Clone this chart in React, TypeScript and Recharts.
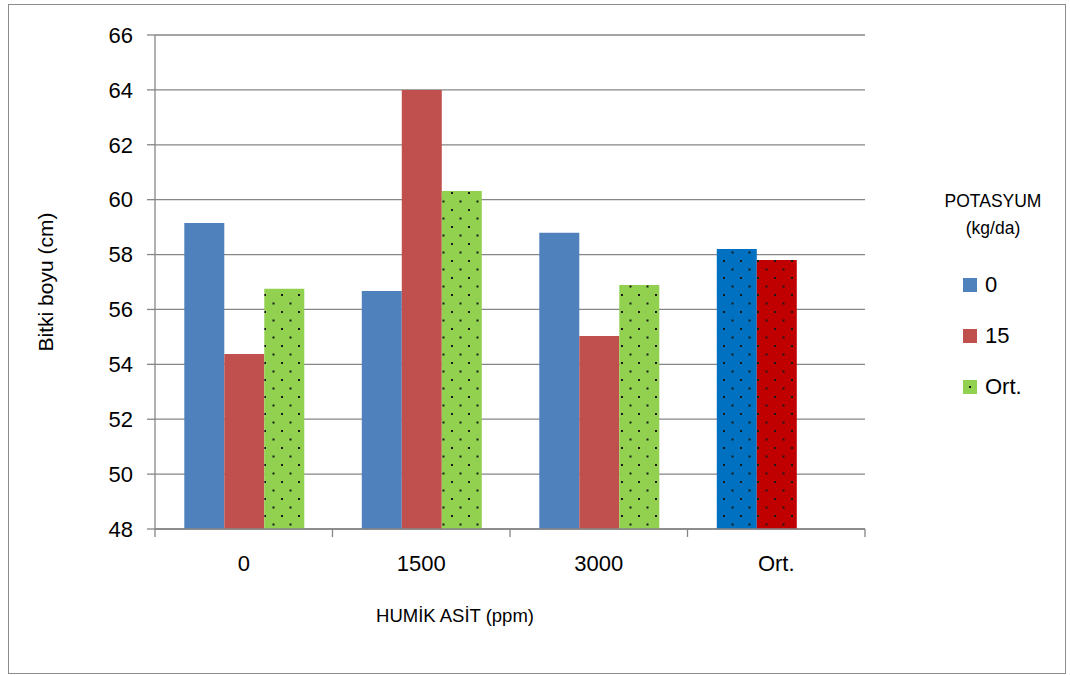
import { Bar, BarChart, CartesianGrid, Cell, XAxis, YAxis } from "recharts";

const categories = ["0", "1500", "3000", "Ort."];
const potasyum0 = [59.15, 56.67, 58.79, 58.2];
const potasyum15 = [54.38, 64.0, 55.03, 57.8];
const ortalama: (number | null)[] = [56.75, 60.32, 56.89, null];
const yTicks = [48, 50, 52, 54, 56, 58, 60, 62, 64, 66];
const legendTitle = ["POTASYUM", "(kg/da)"];
const legendLabels = ["0", "15", "Ort."];

const FONT = '"Liberation Sans", Arial, sans-serif';
const GRID = "#868686";
const BLUE = "#4F81BD";
const RED = "#C0504D";
const GREEN = "#92D050";

const CHART_W = 1056;
const CHART_H = 668;
const MARGIN = { top: 30, right: 200, left: 86, bottom: 44 };
const Y_AXIS_W = 60;
const BAND = (CHART_W - MARGIN.left - MARGIN.right - Y_AXIS_W) / categories.length;

const data = categories.map((c, i) => ({
  cat: c,
  k0: potasyum0[i],
  k15: potasyum15[i],
  ort: ortalama[i],
}));

function XTick(props: any) {
  const { x, y, payload, index } = props;
  const half = BAND / 2;
  return (
    <g>
      <line x1={x - half} x2={x - half} y1={y} y2={y + 8} stroke={GRID} strokeWidth={1.3} />
      {index === categories.length - 1 && (
        <line x1={x + half} x2={x + half} y1={y} y2={y + 8} stroke={GRID} strokeWidth={1.3} />
      )}
      <text x={x} y={y + 34} textAnchor="middle" dominantBaseline="central" fill="#000" fontSize={22} fontFamily={FONT}>
        {payload.value}
      </text>
    </g>
  );
}

function Patterns() {
  const dot = "#1a1a1a";
  const make = (id: string, bg: string) => (
    <pattern id={id} patternUnits="userSpaceOnUse" width="17" height="17">
      <rect width="17" height="17" fill={bg} />
      <rect x="0" y="0" width="2" height="2" fill={dot} />
      <rect x="8.5" y="8.5" width="2" height="2" fill={dot} />
    </pattern>
  );
  return (
    <svg width="0" height="0" style={{ position: "absolute" }}>
      <defs>
        {make("dotsGreen", GREEN)}
        {make("dotsBlue", "#0070C0")}
        {make("dotsRed", "#C00000")}
      </defs>
    </svg>
  );
}

function LegendBox() {
  const colors = [BLUE, RED, GREEN];
  return (
    <div style={{ fontFamily: FONT, color: "#000" }}>
      <div
        style={{
          position: "absolute",
          left: 901,
          top: 183,
          width: 166,
          textAlign: "center",
          fontSize: 17.5,
          lineHeight: "27px",
        }}
      >
        {legendTitle.map((t) => (
          <div key={t}>{t}</div>
        ))}
      </div>
      {legendLabels.map((l, i) => (
        <div
          key={l}
          style={{
            position: "absolute",
            left: 954,
            top: 268 + i * 51,
            height: 24,
            display: "flex",
            alignItems: "center",
            fontSize: 22,
          }}
        >
          <div style={{ width: 14, height: 14, background: colors[i], marginRight: 8, position: "relative" }}>
            {i === 2 && (
              <div style={{ position: "absolute", left: 6, top: 6, width: 2, height: 2, background: "#1a1a1a" }} />
            )}
          </div>
          <span>{l}</span>
        </div>
      ))}
    </div>
  );
}

export default function App() {
  return (
    <div
      style={{
        position: "absolute",
        left: 8,
        top: 4,
        width: 1058,
        height: 670,
        boxSizing: "border-box",
        border: "1px solid #8c8c8c",
        background: "#fff",
      }}
    >
      <Patterns />
      <div style={{ position: "relative", width: CHART_W, height: CHART_H }}>
        <BarChart
          width={CHART_W}
          height={CHART_H}
          data={data}
          margin={MARGIN}
          barCategoryGap="16.5%"
          barGap={0}
        >
          <CartesianGrid vertical={false} stroke={GRID} strokeWidth={1.3} />
          <XAxis
            dataKey="cat"
            height={100}
            tickLine={false}
            tickSize={0}
            tickMargin={0}
            axisLine={{ stroke: GRID, strokeWidth: 1.3 }}
            tick={<XTick />}
            interval={0}
            label={({ viewBox }: any) => (
              <text
                x={viewBox.x + viewBox.width / 2 - 55}
                y={viewBox.y + 86}
                textAnchor="middle"
                dominantBaseline="central"
                fontSize={18.5}
                fontFamily={FONT}
                fill="#000"
              >
                HUMİK ASİT (ppm)
              </text>
            )}
          />
          <YAxis
            width={Y_AXIS_W}
            domain={[48, 66]}
            ticks={yTicks}
            interval={0}
            tickSize={8}
            tickMargin={14}
            axisLine={{ stroke: GRID, strokeWidth: 1.3 }}
            tickLine={{ stroke: GRID, strokeWidth: 1.3 }}
            tick={{ fill: "#000", fontSize: 22, fontFamily: FONT }}
            label={({ viewBox }: any) => (
              <text
                x={viewBox.x - 50}
                y={viewBox.y + viewBox.height / 2}
                textAnchor="middle"
                dominantBaseline="central"
                transform={`rotate(-90 ${viewBox.x - 50} ${viewBox.y + viewBox.height / 2})`}
                fontSize={21}
                fontFamily={FONT}
                fill="#000"
              >
                Bitki boyu (cm)
              </text>
            )}
          />
          <Bar dataKey="k0" name="0" isAnimationActive={false}>
            {categories.map((c) => (
              <Cell key={c} fill={c === "Ort." ? "url(#dotsBlue)" : BLUE} />
            ))}
          </Bar>
          <Bar dataKey="k15" name="15" isAnimationActive={false}>
            {categories.map((c) => (
              <Cell key={c} fill={c === "Ort." ? "url(#dotsRed)" : RED} />
            ))}
          </Bar>
          <Bar dataKey="ort" name="Ort." fill="url(#dotsGreen)" isAnimationActive={false} />
        </BarChart>
        <LegendBox />
      </div>
    </div>
  );
}
